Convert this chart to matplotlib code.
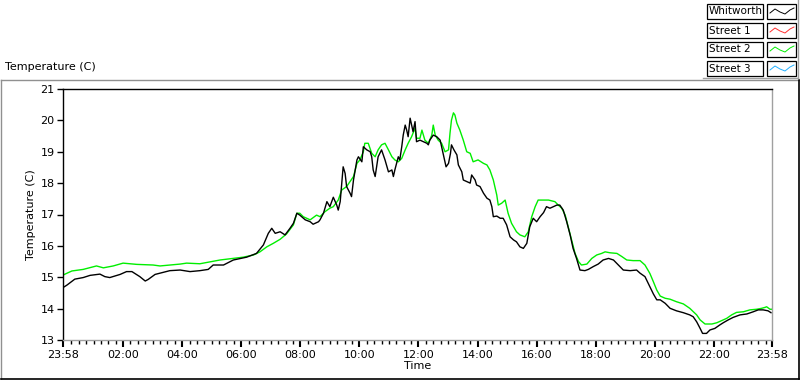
import matplotlib
matplotlib.use("Agg")
import matplotlib.pyplot as plt
from matplotlib.lines import Line2D
from matplotlib.patches import Rectangle

# =========================================================
# Dados (minutos desde a meia-noite, temperatura em C)
# =========================================================

whitworth_min = [-2, 6, 12, 22, 39, 53, 73, 83, 93, 114, 127, 138, 154, 165, 171, 185, 215, 236, 256, 276,
                 293, 303, 324, 344, 371, 391, 405, 415, 422, 429, 439, 449, 459, 466, 473, 479, 490, 500, 506, 517,
                 520, 527, 534, 540, 547, 554, 557, 561, 567, 571, 574, 581, 584, 588, 595, 598, 605, 608, 615, 622,
                 625, 628, 632, 635, 638, 645, 652, 655, 659, 666, 669, 672, 679, 682, 686, 689, 693, 696, 699, 703,
                 706, 709, 713, 716, 723, 730, 737, 740, 743, 750, 757, 764, 770, 776, 781, 785, 787, 792, 798, 801,
                 808, 811, 818, 825, 828, 835, 838, 845, 852, 859, 865, 869, 872, 879, 886, 892, 899, 906, 913, 919,
                 926, 933, 940, 946, 953, 960, 967, 974, 980, 987, 994, 1001, 1007, 1014, 1021, 1028, 1034, 1041, 1048, 1058,
                 1065, 1075, 1085, 1095, 1106, 1116, 1126, 1136, 1150, 1163, 1170, 1180, 1190, 1197, 1204, 1211, 1221, 1231, 1244, 1258,
                 1271, 1278, 1285, 1292, 1297, 1305, 1312, 1322, 1332, 1339, 1349, 1359, 1373, 1387, 1400, 1410, 1420, 1430, 1436]
whitworth_temp = [14.67, 14.75, 14.82, 14.94, 14.99, 15.06, 15.10, 15.02, 14.99, 15.09, 15.18, 15.18, 15.02, 14.88, 14.93, 15.09, 15.21, 15.23, 15.18, 15.21,
                  15.25, 15.39, 15.39, 15.55, 15.64, 15.76, 16.03, 16.40, 16.56, 16.40, 16.45, 16.35, 16.56, 16.72, 17.04, 16.98, 16.83, 16.77, 16.69, 16.77,
                  16.83, 17.04, 17.41, 17.25, 17.55, 17.30, 17.14, 17.41, 18.52, 18.31, 17.89, 17.68, 17.57, 18.10, 18.74, 18.84, 18.68, 19.16, 19.06, 19.00,
                  18.84, 18.42, 18.21, 18.52, 18.84, 19.06, 18.74, 18.58, 18.36, 18.42, 18.21, 18.42, 18.84, 18.74, 19.16, 19.53, 19.85, 19.69, 19.48, 20.07,
                  19.85, 19.64, 19.96, 19.32, 19.37, 19.32, 19.27, 19.22, 19.37, 19.53, 19.48, 19.37, 18.95, 18.52, 18.63, 18.95, 19.22, 19.06, 18.90, 18.58,
                  18.36, 18.10, 18.05, 18.00, 18.26, 18.10, 17.94, 17.89, 17.68, 17.52, 17.46, 17.25, 16.93, 16.95, 16.88, 16.88, 16.67, 16.29, 16.19, 16.13,
                  15.97, 15.92, 16.08, 16.61, 16.88, 16.77, 16.93, 17.06, 17.25, 17.20, 17.25, 17.30, 17.30, 17.14, 16.77, 16.35, 15.92, 15.60, 15.23, 15.21,
                  15.25, 15.34, 15.42, 15.55, 15.60, 15.55, 15.39, 15.23, 15.21, 15.23, 15.13, 15.02, 14.70, 14.47, 14.28, 14.28, 14.17, 14.01, 13.93, 13.87,
                  13.80, 13.74, 13.58, 13.37, 13.21, 13.21, 13.32, 13.37, 13.48, 13.55, 13.64, 13.72, 13.80, 13.83, 13.90, 13.96, 13.96, 13.93, 13.87]

street2_min = [-2, 16, 39, 66, 80, 100, 120, 148, 181, 195, 215, 236, 249, 276, 293, 317, 344, 364, 385, 398,
               412, 425, 439, 452, 466, 473, 479, 486, 500, 513, 520, 530, 540, 547, 557, 564, 574, 581, 588, 595,
               601, 608, 611, 618, 625, 632, 638, 645, 652, 659, 666, 672, 679, 686, 693, 699, 706, 713, 716, 723,
               727, 733, 740, 747, 750, 754, 760, 767, 774, 781, 784, 787, 791, 794, 798, 804, 811, 818, 825, 831,
               841, 852, 859, 865, 872, 879, 882, 889, 896, 902, 909, 919, 926, 936, 943, 950, 957, 963, 974, 984,
               997, 1004, 1011, 1018, 1024, 1031, 1038, 1045, 1051, 1062, 1072, 1082, 1092, 1099, 1109, 1123, 1133, 1143, 1156, 1170,
               1180, 1190, 1197, 1204, 1211, 1221, 1231, 1244, 1258, 1271, 1285, 1292, 1302, 1316, 1326, 1336, 1346, 1356, 1366, 1380,
               1393, 1407, 1417, 1424, 1427, 1434, 1438]
street2_temp = [15.07, 15.20, 15.25, 15.36, 15.30, 15.36, 15.45, 15.41, 15.39, 15.36, 15.39, 15.42, 15.45, 15.43, 15.48, 15.55, 15.60, 15.64, 15.71, 15.81,
                15.97, 16.08, 16.21, 16.38, 16.67, 17.04, 17.04, 16.93, 16.83, 16.98, 16.93, 17.09, 17.20, 17.25, 17.46, 17.78, 17.89, 18.05, 18.21, 18.63,
                18.74, 19.00, 19.27, 19.27, 18.95, 18.84, 19.06, 19.22, 19.27, 19.06, 18.84, 18.74, 18.68, 18.79, 19.06, 19.27, 19.48, 19.75, 19.43, 19.43,
                19.69, 19.37, 19.27, 19.53, 19.85, 19.53, 19.37, 19.27, 19.00, 19.06, 19.59, 20.01, 20.24, 20.17, 19.91, 19.69, 19.37, 19.00, 18.95, 18.68,
                18.74, 18.63, 18.58, 18.42, 18.10, 17.62, 17.30, 17.36, 17.46, 17.04, 16.72, 16.45, 16.35, 16.29, 16.45, 16.93, 17.25, 17.46, 17.46, 17.46,
                17.41, 17.30, 17.20, 16.98, 16.61, 16.19, 15.76, 15.50, 15.39, 15.42, 15.60, 15.71, 15.76, 15.81, 15.78, 15.76, 15.66, 15.55, 15.53, 15.53,
                15.39, 15.12, 14.86, 14.59, 14.40, 14.33, 14.30, 14.22, 14.15, 14.01, 13.80, 13.64, 13.51, 13.51, 13.55, 13.62, 13.69, 13.80, 13.88, 13.90,
                13.96, 13.98, 14.01, 14.04, 14.06, 13.98, 13.98]

# Street 1 e Street 3 aparecem na legenda mas sem dados no grafico
street1_min, street1_temp = [], []
street3_min, street3_temp = [], []

series_names = ["Whitworth", "Street 1", "Street 2", "Street 3"]
series_colors = ["#000000", "#ff3030", "#00ee00", "#20b0ff"]

tick_pos = [-2, 120, 240, 360, 480, 600, 720, 840, 960, 1080, 1200, 1320, 1438]
tick_labels = ["23:58", "02:00", "04:00", "06:00", "08:00", "10:00", "12:00",
               "14:00", "16:00", "18:00", "20:00", "22:00", "23:58"]

# =========================================================
# Figura
# =========================================================

W, H = 800, 380
fig = plt.figure(figsize=(8, 3.8), dpi=100)
plt.rcParams['font.family'] = ['DejaVu Sans']


def fx(x):
    return x / W


def fy(y):
    return 1 - y / H


ax = fig.add_axes([fx(63), fy(340), fx(772) - fx(63), fy(89) - fy(340)])

all_data = [(whitworth_min, whitworth_temp), (street1_min, street1_temp),
            (street2_min, street2_temp), (street3_min, street3_temp)]
# desenha Street 2 por baixo do Whitworth
for idx in [1, 2, 3, 0]:
    xs, ys = all_data[idx]
    ax.plot(xs, ys, color=series_colors[idx], lw=1.0)

ax.set_xlim(-2, 1438)
ax.set_ylim(13, 21)
ax.set_yticks(range(13, 22))
ax.set_xticks(tick_pos)
ax.set_xticklabels(tick_labels)
minor = [m for m in range(15, 1438, 15) if m % 120 != 0]
ax.set_xticks(minor, minor=True)
ax.tick_params(axis='both', labelsize=8, length=4, width=1, color='black', pad=2)
ax.tick_params(axis='x', which='minor', length=3, width=1)
ax.tick_params(axis='x', which='major', length=5, width=1.5)
for s in ['left', 'top']:
    ax.spines[s].set_color('black')
    ax.spines[s].set_linewidth(1)
for s in ['right', 'bottom']:
    ax.spines[s].set_color('#a0a0a0')
    ax.spines[s].set_linewidth(1)

ax.set_ylabel('Temperature (C)', fontsize=8, labelpad=3)
ax.set_xlabel('Time', fontsize=8, labelpad=1)

# moldura externa do grafico
fig.add_artist(Line2D([fx(1), fx(799)], [fy(79.5), fy(79.5)], transform=fig.transFigure, color='#909090', lw=1))
fig.add_artist(Line2D([fx(1), fx(1)], [fy(79.5), fy(379)], transform=fig.transFigure, color='#909090', lw=1))
fig.add_artist(Line2D([fx(1), fx(799)], [fy(379), fy(379)], transform=fig.transFigure, color='black', lw=1.2))
fig.add_artist(Line2D([fx(799), fx(799)], [fy(79.5), fy(379)], transform=fig.transFigure, color='black', lw=1.2))

fig.text(fx(5), fy(72), 'Temperature (C)', fontsize=8, va='bottom', ha='left')

# =========================================================
# Legenda no estilo LabVIEW
# =========================================================

row_top = [4, 23, 42, 61]
for name, color, top in zip(series_names, series_colors, row_top):
    h = 15
    fig.add_artist(Rectangle((fx(707), fy(top + h)), fx(56), fy(0) - fy(h), transform=fig.transFigure,
                             fill=True, fc='white', ec='black', lw=0.9))
    fig.text(fx(709), fy(top + h / 2), name, fontsize=7.5, va='center', ha='left')
    fig.add_artist(Rectangle((fx(767), fy(top + h)), fx(29), fy(0) - fy(h), transform=fig.transFigure,
                             fill=True, fc='white', ec='black', lw=0.9))
    # icone em zigue-zague
    zx = [770, 775, 780, 785, 790, 794]
    zy = [top + 9, top + 5, top + 8, top + 10, top + 6, top + 4]
    fig.add_artist(Line2D([fx(v) for v in zx], [fy(v) for v in zy], transform=fig.transFigure,
                          color=color, lw=0.7))

fig.add_artist(Line2D([fx(703), fx(797.5)], [fy(78), fy(78)], transform=fig.transFigure, color='#a0a0a0', lw=1))
fig.add_artist(Line2D([fx(797.5), fx(797.5)], [fy(0), fy(78)], transform=fig.transFigure, color='#a0a0a0', lw=1))

fig.savefig('out.png', dpi=100)
